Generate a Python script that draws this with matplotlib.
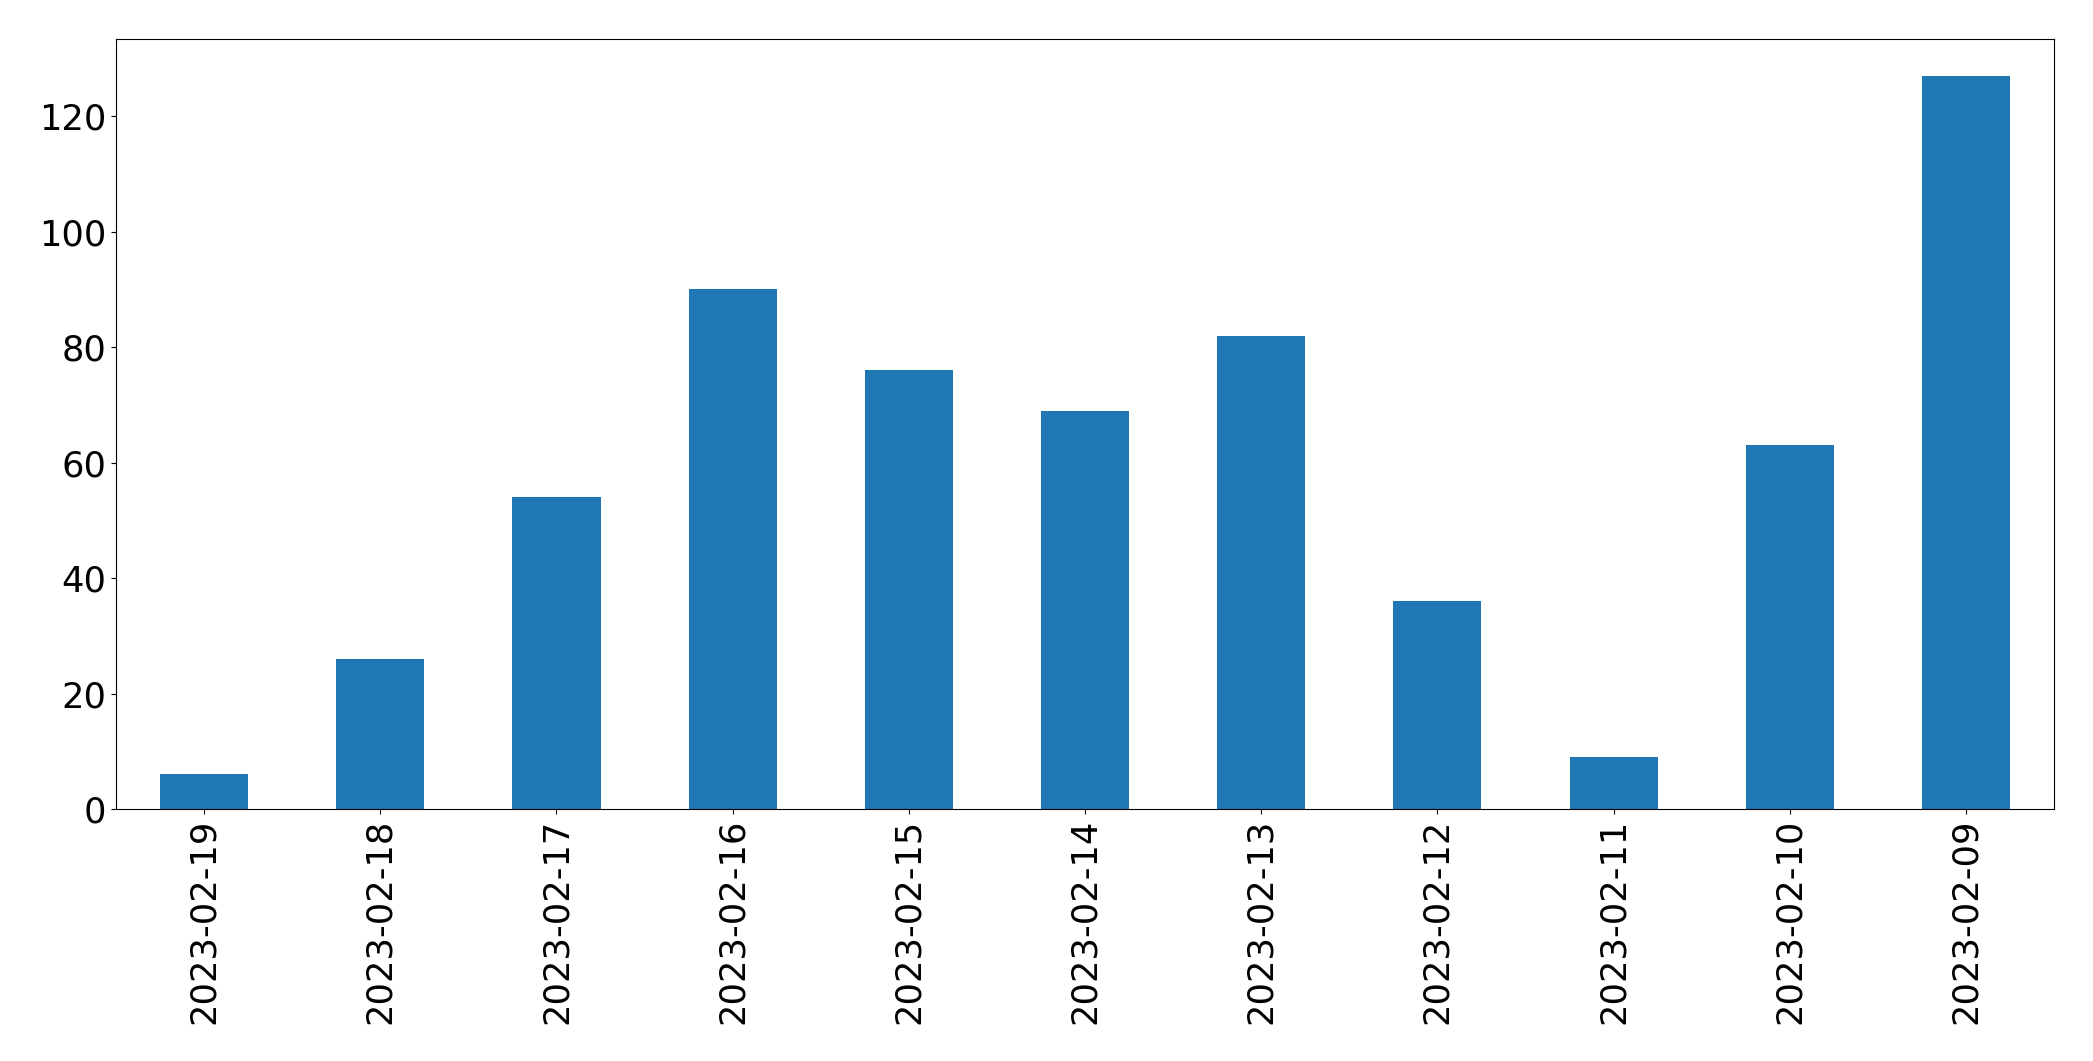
import matplotlib
matplotlib.use("Agg")
import matplotlib.pyplot as plt

dates = ["2023-02-19", "2023-02-18", "2023-02-17", "2023-02-16", "2023-02-15",
         "2023-02-14", "2023-02-13", "2023-02-12", "2023-02-11", "2023-02-10",
         "2023-02-09"]
counts = [6, 26, 54, 90, 76, 69, 82, 36, 9, 63, 127]

fig = plt.figure(figsize=(20.93, 10.61), dpi=100)
ax = fig.add_axes([116/2093, 1-809/1061, (2054-116)/2093, (809-39)/1061])
x = list(range(len(dates)))
ax.bar(x, counts, width=0.5, color="#1f77b4")
ax.set_xlim(-0.5, len(dates) - 0.5)
ax.set_xticks(x)
ax.set_xticklabels(dates, rotation=90)
ax.tick_params(labelsize=25.4)
fig.savefig("out.png", dpi=100)
